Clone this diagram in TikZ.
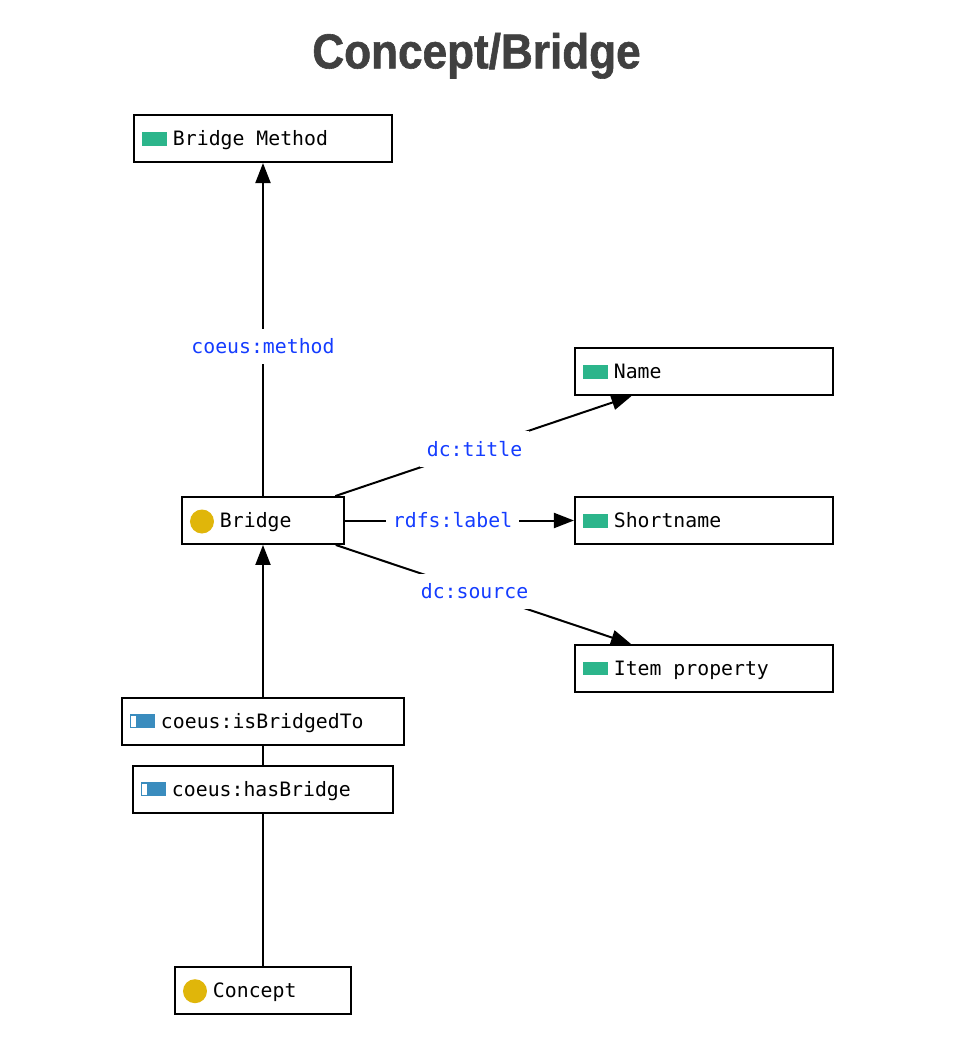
\documentclass[tikz,border=0pt]{standalone}
\usepackage{fontspec}
\setmonofont{DejaVu Sans Mono}
\newfontfamily\titlefont[FakeStretch=0.9,FakeBold=1.2]{Liberation Sans}
\usepackage{xcolor}
\usetikzlibrary{arrows.meta, positioning}

\definecolor{dpgreen}{RGB}{44,181,139}
\definecolor{clsyellow}{RGB}{224,182,10}
\definecolor{objblue}{RGB}{58,140,190}
\definecolor{lblblue}{RGB}{20,60,255}
\definecolor{titlegray}{RGB}{64,64,64}

\newcommand{\monofont}{\ttfamily\fontsize{19.8}{23}\selectfont}
\newcommand{\wsp}{\hspace{11.92pt}}
\newcommand{\classdot}{\tikz[baseline={(0,-6pt)}]\fill[clsyellow] (0,0) circle (12pt);\hspace{6pt}}
\newcommand{\databar}{\textcolor{dpgreen}{\rule{25pt}{13.5pt}}\hspace{6pt}}
\newcommand{\objbar}{\tikz[baseline=0pt]{\fill[objblue] (0,0) rectangle (25pt,14pt);
  \fill[white] (1.3pt,1.3pt) rectangle (6.5pt,12.7pt);}\hspace{6pt}}

\begin{document}
\begin{tikzpicture}[>={Triangle[length=20pt,width=15pt]},
  every node/.style={font=\monofont},
  box/.style={draw,line width=1.9pt,fill=white,minimum height=47pt,
    inner xsep=8pt,text width=#1,align=left,text height=18pt,text depth=4pt},
  lbl/.style={fill=white,text=lblblue,inner xsep=7pt,inner ysep=10pt,pos=.47},
  edge/.style={line width=2pt}]
 \useasboundingbox (-263pt,-516.5pt) rectangle (690pt,520.5pt);
 \node[font=\titlefont\bfseries\fontsize{49}{55}\selectfont,text=titlegray,
   anchor=base] (title) at (213.5pt,452.2pt) {Concept/Bridge};
 \node[box=146pt] (bridge) at (0,0) {\classdot Bridge};
 \node[box=242pt,above=333pt of bridge] (method) {\databar Bridge\wsp Method};
 \node[box=242pt,right=229pt of bridge] (short) {\databar Shortname};
 \node[box=242pt,above=100pt of short] (name) {\databar Name};
 \node[box=242pt,below=99pt of short] (item) {\databar Item\wsp property};
 \node[box=266pt,below=152pt of bridge] (bridgedto) {\objbar coeus:isBridgedTo};
 \node[box=244pt,below=19pt of bridgedto] (hasbridge) {\objbar coeus:hasBridge};
 \node[box=160pt,below=152pt of hasbridge] (concept) {\classdot Concept};
 \draw[edge,->] (bridge) -- node[lbl,pos=.45]{coeus:method} (method);
 \draw[edge,->] (bridge) -- node[lbl]{dc:title} (name);
 \draw[edge,->] (bridge) -- node[lbl]{rdfs:label} (short);
 \draw[edge,->] (bridge) -- node[lbl]{dc:source} (item);
 \draw[edge,->] (bridgedto) -- (bridge);
 \draw[edge] (bridgedto) -- (hasbridge);
 \draw[edge] (concept) -- (hasbridge);
\end{tikzpicture}
\end{document}
